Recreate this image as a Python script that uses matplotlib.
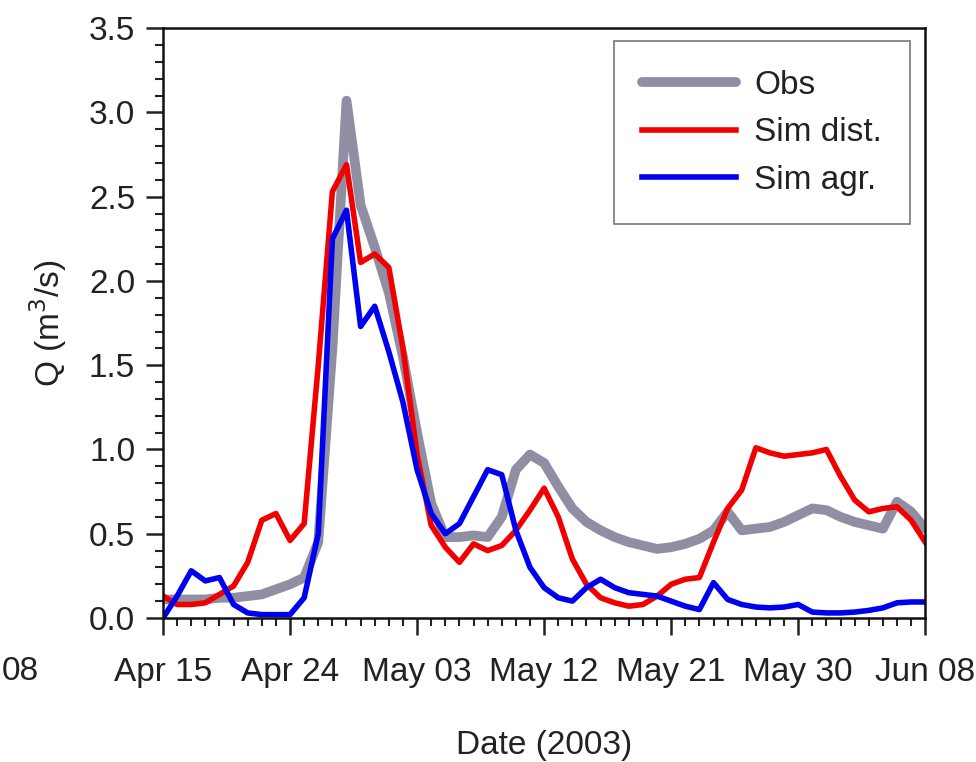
#!/usr/bin/env python3
"""
Daily discharge, observed vs. simulated (distributed / aggregated), spring 2003.
Writes out.png
"""
import pandas as pd
import matplotlib
matplotlib.use("Agg")
import matplotlib.pyplot as plt
import matplotlib.dates as mdates

start = "2003-04-15"
end = "2003-06-08"

# daily discharge, m3/s, Apr 15 .. Jun 08
obs = [0.11, 0.11, 0.11, 0.11, 0.12, 0.12, 0.13, 0.14, 0.17, 0.20,
       0.24, 0.45, 1.60, 3.07, 2.45, 2.20, 1.93, 1.55, 1.10, 0.68,
       0.48, 0.48, 0.49, 0.48, 0.60, 0.88, 0.97, 0.92, 0.78, 0.65,
       0.57, 0.52, 0.48, 0.45, 0.43, 0.41, 0.42, 0.44, 0.47, 0.52,
       0.63, 0.52, 0.53, 0.54, 0.57, 0.61, 0.65, 0.64, 0.60, 0.57,
       0.55, 0.53, 0.69, 0.63, 0.53]
sim_dist = [0.13, 0.08, 0.08, 0.09, 0.14, 0.19, 0.33, 0.58, 0.62, 0.46,
            0.56, 1.50, 2.53, 2.69, 2.11, 2.16, 2.08, 1.60, 0.97, 0.55,
            0.42, 0.33, 0.44, 0.40, 0.43, 0.52, 0.64, 0.77, 0.60, 0.35,
            0.20, 0.12, 0.09, 0.07, 0.08, 0.13, 0.20, 0.23, 0.24, 0.45,
            0.65, 0.76, 1.01, 0.98, 0.96, 0.97, 0.98, 1.00, 0.84, 0.70,
            0.63, 0.65, 0.66, 0.58, 0.45]
sim_agr = [0.00, 0.13, 0.28, 0.22, 0.24, 0.08, 0.03, 0.02, 0.02, 0.02,
           0.12, 0.50, 2.25, 2.42, 1.73, 1.85, 1.58, 1.28, 0.88, 0.62,
           0.50, 0.56, 0.72, 0.88, 0.85, 0.52, 0.30, 0.18, 0.12, 0.10,
           0.18, 0.23, 0.18, 0.15, 0.14, 0.13, 0.10, 0.07, 0.05, 0.21,
           0.11, 0.08, 0.065, 0.06, 0.065, 0.08, 0.035, 0.03, 0.03, 0.035,
           0.045, 0.06, 0.09, 0.095, 0.095]

FS = 24
INK = "#222222"


def main():
    plt.rcParams["font.family"] = ["Liberation Sans", "DejaVu Sans"]
    days = pd.date_range(start, end, freq="D")

    fig = plt.figure(figsize=(9.76, 7.62), dpi=100)
    ax = fig.add_axes([0.167, 0.189, 0.781, 0.774])

    ax.plot(days, obs, color="#8f8ea3", lw=7, label="Obs", solid_capstyle="round")
    ax.plot(days, sim_dist, color="#f20000", lw=4, label="Sim dist.")
    ax.plot(days, sim_agr, color="#0000f0", lw=4, label="Sim agr.")

    ax.set_xlim(days[0], days[-1])
    ax.set_ylim(0, 3.5)

    ax.set_xticks(pd.date_range(start, end, freq="9D"))
    ax.xaxis.set_major_formatter(mdates.DateFormatter("%b %d"))
    ax.xaxis.set_minor_locator(mdates.DayLocator())
    ax.set_yticks([0, 0.5, 1.0, 1.5, 2.0, 2.5, 3.0, 3.5])
    ax.set_yticks([i / 10 for i in range(36)], minor=True)
    ax.yaxis.set_major_formatter(matplotlib.ticker.FormatStrFormatter("%.1f"))

    ax.tick_params(which="major", direction="out", length=12, width=1.8,
                   labelsize=FS, colors=INK)
    ax.tick_params(which="minor", direction="out", length=6, width=1.5, colors=INK)
    ax.tick_params(axis="x", which="major", pad=16)
    ax.tick_params(axis="y", which="major", pad=8)
    for s in ax.spines.values():
        s.set_linewidth(1.8)
        s.set_color("#111111")

    ax.set_xlabel("Date (2003)", fontsize=FS, color=INK, labelpad=30)
    ax.set_ylabel("Q (m$^3$/s)", fontsize=FS, color=INK, labelpad=14)

    leg = ax.legend(loc="upper right", bbox_to_anchor=(0.98, 0.978), fontsize=FS,
                    frameon=True, fancybox=False, handlelength=2.8,
                    handletextpad=0.55, labelspacing=0.5, borderpad=0.85,
                    borderaxespad=0)
    leg.get_frame().set_edgecolor("#555555")
    leg.get_frame().set_linewidth(1.2)
    for t in leg.get_texts():
        t.set_color(INK)

    # last tick label of the neighbouring panel, at the figure's left edge
    fig.text(0.002, 1 - 672 / 762, "08", fontsize=FS, color=INK,
             ha="left", va="center")

    fig.savefig("out.png", dpi=100)


if __name__ == "__main__":
    main()
